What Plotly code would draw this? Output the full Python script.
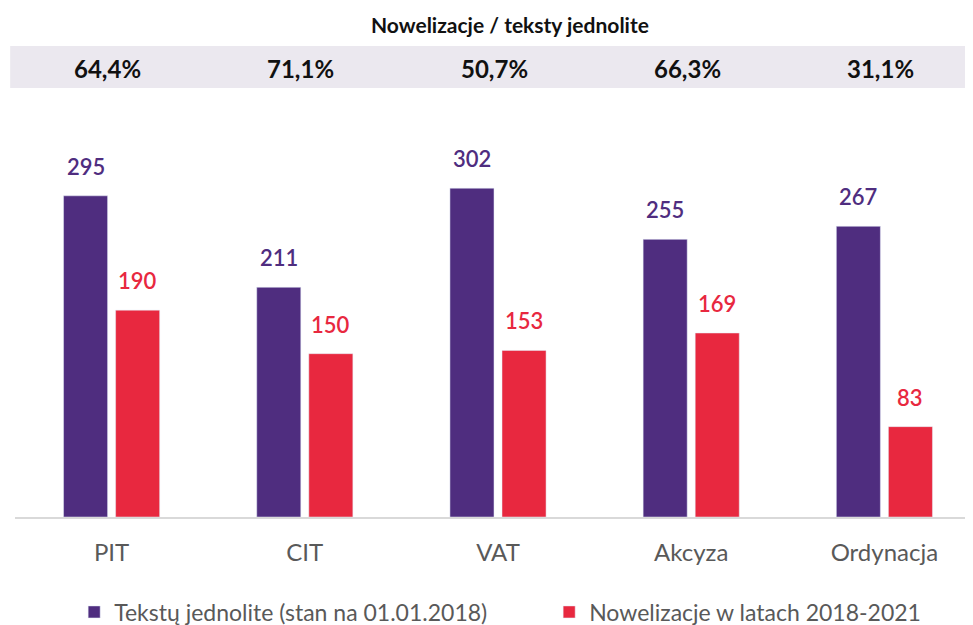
import plotly.graph_objects as go

categories = ["PIT", "CIT", "VAT", "Akcyza", "Ordynacja"]
teksty = [295, 211, 302, 255, 267]
nowelizacje = [190, 150, 153, 169, 83]
percent_labels = ["64,4%", "71,1%", "50,7%", "66,3%", "31,1%"]
name_teksty = "Tekstų jednolite (stan na 01.01.2018)"
name_now = "Nowelizacje w latach 2018-2021"
title_text = "Nowelizacje / teksty jednolite"

PURPLE = "#4f2d7f"
RED = "#e8283f"
FONT = "Lato"

fig = go.Figure()
fig.add_trace(go.Bar(x=categories, y=teksty, name=name_teksty, marker_color=PURPLE))
fig.add_trace(go.Bar(x=categories, y=nowelizacje, name=name_now, marker_color=RED))

ann = []
for c, v in zip(categories, teksty):
    ann.append(dict(x=c, y=v, xref="x", yref="y", text=str(v), showarrow=False,
                    xshift=-26, yshift=14, yanchor="bottom",
                    font=dict(family=FONT, size=22, color=PURPLE, weight=600)))
for c, v in zip(categories, nowelizacje):
    ann.append(dict(x=c, y=v, xref="x", yref="y", text=str(v), showarrow=False,
                    xshift=26, yshift=14, yanchor="bottom",
                    font=dict(family=FONT, size=22, color=RED, weight=600)))
for c, p in zip(categories, percent_labels):
    ann.append(dict(x=c, y=1.0767, xref="x", yref="paper", text=p, showarrow=False,
                    yanchor="middle", xshift=-4,
                    font=dict(family=FONT, size=24, color="#111111", weight=700)))
ann.append(dict(x=0.512, y=1.182, xref="paper", yref="paper", text=title_text,
                showarrow=False, yanchor="middle",
                font=dict(family=FONT, size=21, color="#111111", weight=700)))

fig.update_layout(
    width=973, height=625,
    margin=dict(l=7, r=0, t=92, b=116),
    paper_bgcolor="white", plot_bgcolor="white",
    barmode="group", bargap=0.461, bargroupgap=0.154,
    font=dict(family=FONT, color="#595959"),
    annotations=ann,
    shapes=[dict(type="rect", xref="paper", yref="paper", x0=-0.005, x1=1.0,
                 y0=1.0288, y1=1.1295, fillcolor="#ebe8ef", line_width=0, layer="below")],
    legend=dict(orientation="h", x=0.068, xanchor="left", xref="container",
                y=0.0336, yanchor="middle", yref="container",
                font=dict(family=FONT, size=23, color="#595959"), itemwidth=30,
                entrywidth=430, traceorder="normal"),
    xaxis=dict(showline=True, linecolor="#d9d9d9", linewidth=2,
               ticks="outside", ticklen=13, tickcolor="rgba(0,0,0,0)",
               range=[-0.5, 4.5],
               tickfont=dict(family=FONT, size=24, color="#595959")),
    yaxis=dict(range=[0, 383], visible=False, showgrid=False),
    showlegend=True,
)

fig.write_html("out.html")
